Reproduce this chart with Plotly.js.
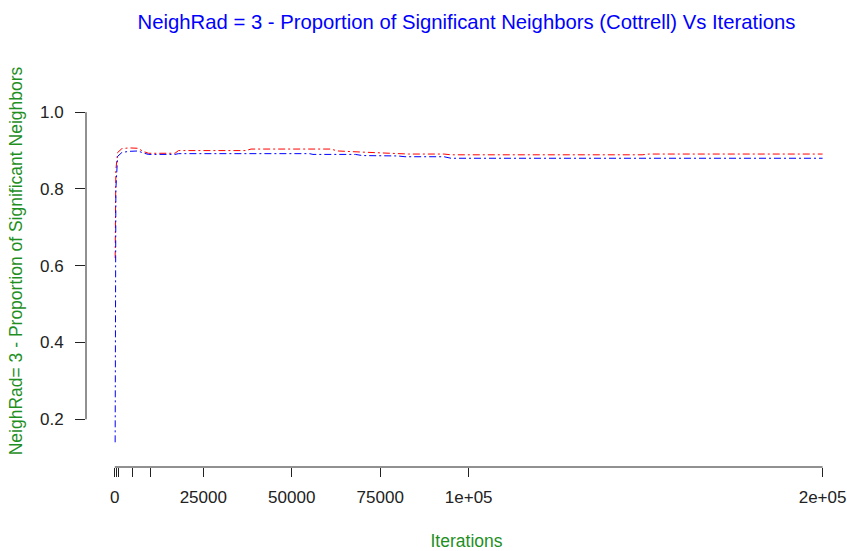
<!DOCTYPE html>
<html>
<head>
<meta charset="utf-8">
<script src="https://cdn.plot.ly/plotly-3.0.1.min.js"></script>
<style>html,body{margin:0;padding:0;background:#fff;}#chart{width:847px;height:551px;}</style>
</head>
<body>
<div id="chart"></div>
<script>
// Red series (iterations vs proportion)
const redIter = [100, 300, 800, 2000, 4000, 6500, 8000, 9500, 17000, 18000, 37000, 38500, 61000, 63000, 70000, 80000, 83000, 93000, 95000, 149000, 151000, 200000];
const redProp = [0.62, 0.85, 0.895, 0.905, 0.907, 0.906, 0.898, 0.893, 0.893, 0.900, 0.900, 0.904, 0.904, 0.899, 0.896, 0.893, 0.891, 0.891, 0.889, 0.889, 0.891, 0.891];
// Blue series
const blueIter = [100, 300, 800, 2000, 4000, 6500, 8000, 9500, 17000, 18000, 55000, 56000, 68000, 70000, 80000, 82000, 93000, 95000, 200000];
const blueProp = [0.14, 0.80, 0.885, 0.895, 0.898, 0.899, 0.894, 0.890, 0.890, 0.892, 0.892, 0.890, 0.890, 0.887, 0.886, 0.884, 0.884, 0.880, 0.880];

const xTickVals = [0, 500, 1000, 5000, 10000, 25000, 50000, 75000, 100000, 200000];
const xTickText = ["0", "", "", "", "", "25000", "50000", "75000", "1e+05", "2e+05"];
const yTickVals = [0.2, 0.4, 0.6, 0.8, 1.0];
const yTickText = ["0.2", "0.4", "0.6", "0.8", "1.0"];

const titleText = "NeighRad = 3 - Proportion of Significant Neighbors (Cottrell) Vs Iterations";
const xTitle = "Iterations";
const yTitle = "NeighRad= 3 - Proportion of Significant Neighbors";

const FONT = "Liberation Sans, Arial, sans-serif";
const AXC = "#222222";
const GREEN = "#1f8f1f";

const traces = [
  {x: redIter, y: redProp, type: "scatter", mode: "lines",
   line: {color: "#ff0000", width: 1, dash: "7px,3px,2px,3px"}, hoverinfo: "skip"},
  {x: blueIter, y: blueProp, type: "scatter", mode: "lines",
   line: {color: "#0000ff", width: 1, dash: "7px,3px,2px,3px"}, hoverinfo: "skip"}
];

const layout = {
  width: 847, height: 551,
  margin: {l: 86, r: 0, t: 55, b: 84, pad: 0},
  paper_bgcolor: "#ffffff", plot_bgcolor: "#ffffff",
  showlegend: false,
  font: {family: FONT, size: 17, color: AXC},
  title: {text: titleText, font: {family: FONT, size: 20.3, color: "#0000ff"},
          x: 0.5, xref: "paper", xanchor: "center", y: 0.96, yref: "container", yanchor: "middle"},
  xaxis: {
    range: [-8138, 206900], showgrid: false, zeroline: false, showline: false,
    tickmode: "array", tickvals: xTickVals, ticktext: xTickText,
    ticks: "outside", ticklen: 9, tickwidth: 1, tickcolor: AXC,
    ticklabelstandoff: 6,
    tickfont: {family: FONT, size: 17, color: AXC},
    title: {text: xTitle, font: {family: FONT, size: 17.5, color: GREEN}, standoff: 28}
  },
  yaxis: {
    range: [0.0757, 1.149], showgrid: false, zeroline: false, showline: false,
    tickmode: "array", tickvals: yTickVals, ticktext: yTickText,
    ticks: "outside", ticklen: 10, tickwidth: 1, tickcolor: AXC,
    ticklabelstandoff: 8,
    tickfont: {family: FONT, size: 17, color: AXC},
    title: {text: yTitle, font: {family: FONT, size: 17.5, color: GREEN}, standoff: 12}
  },
  shapes: [
    {type: "line", xref: "x", yref: "paper", x0: xTickVals[0], x1: xTickVals[xTickVals.length - 1], y0: 0, y1: 0,
     line: {color: AXC, width: 1}},
    {type: "line", xref: "paper", yref: "y", x0: 0, x1: 0, y0: yTickVals[0], y1: yTickVals[yTickVals.length - 1],
     line: {color: AXC, width: 1}}
  ]
};

Plotly.newPlot("chart", traces, layout, {staticPlot: true, displayModeBar: false});
</script>
</body>
</html>
